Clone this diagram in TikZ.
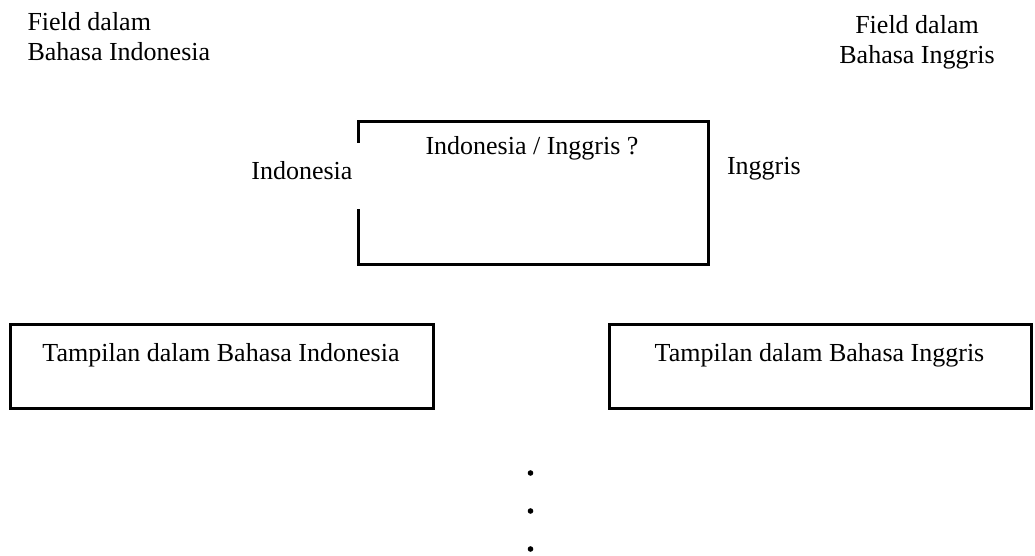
\documentclass[tikz,border=0pt]{standalone}
\usepackage{fontspec}
\setmainfont{Liberation Serif}
\begin{document}
\begin{tikzpicture}[x=1pt,y=-1pt,
  txt/.style={font=\fontsize{26}{30.5}\selectfont, inner sep=0pt, outer sep=0pt},
  frame/.style={draw, line width=3pt, inner sep=0pt, outer sep=0pt},
  gapframe/.style={line width=3pt},
  dotmark/.style={circle, fill=black, inner sep=0pt, minimum size=5.6pt},
]
\useasboundingbox (0,0) rectangle (1035,556);

% field labels at the top corners (base = baseline of the second line)
\node[txt, align=left, anchor=base west] (fieldid) at (27.5,61)
  {Field dalam\\Bahasa Indonesia};
\node[txt, align=center, anchor=base] (fielden) at (917,64)
  {Field dalam\\Bahasa Inggris};

% language choice box, open on its left side
\node[minimum width=349.3pt, minimum height=142.7pt, inner sep=0pt] (choice) at (533.3,192.7) {};
\node[txt, anchor=base] (choicetxt) at (532,155) {Indonesia / Inggris ?};
\coordinate (gaptop) at (358.7,143);
\coordinate (gapbot) at (358.7,209);
\draw[gapframe] (choice.west |- gaptop) -- (choice.north west) -- (choice.north east)
  -- (choice.south east) -- (choice.south west) -- (choice.west |- gapbot);

% branch labels
\node[txt, anchor=base east] (optid) at (352.5,179) {Indonesia};
\node[txt, anchor=base west] (opten) at (727,175) {Inggris};

% result boxes
\node[frame, minimum width=423.4pt, minimum height=83.6pt] (viewid) at (222,366.5) {};
\node[txt, anchor=base] (viewidtxt) at (221,361) {Tampilan dalam Bahasa Indonesia};
\node[frame, minimum width=422pt, minimum height=83.6pt] (viewen) at (820.5,366.5) {};
\node[txt, anchor=base] (viewentxt) at (819.5,361) {Tampilan dalam Bahasa Inggris};

% continuation dots
\node[dotmark] (dot1) at (530.5,473) {};
\node[dotmark] (dot2) at (530.5,511) {};
\node[dotmark] (dot3) at (530.5,549) {};
\end{tikzpicture}
\end{document}
